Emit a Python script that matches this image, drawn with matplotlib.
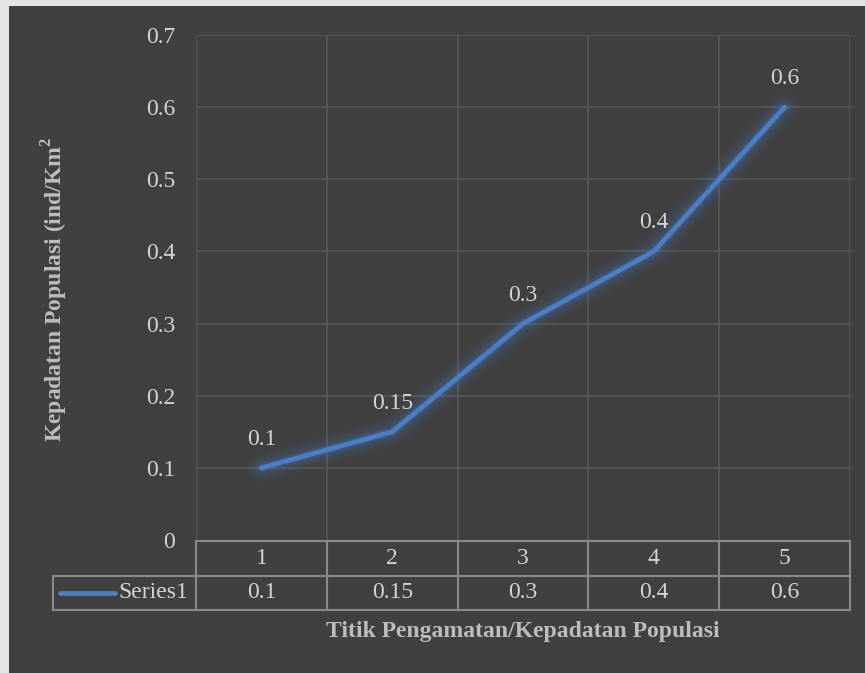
import matplotlib.pyplot as plt
from matplotlib.patches import Rectangle
import matplotlib.transforms as mtransforms

# data
titik = [1, 2, 3, 4, 5]
kepadatan = [0.1, 0.15, 0.3, 0.4, 0.6]
value_labels = ['0.1', '0.15', '0.3', '0.4', '0.6']
series_name = 'Series1'
y_ticks = [0, 0.1, 0.2, 0.3, 0.4, 0.5, 0.6, 0.7]
y_ticklabels = ['0', '0.1', '0.2', '0.3', '0.4', '0.5', '0.6', '0.7']

bg = '#404040'
grid_c = '#585858'
table_c = '#8a8a8a'
text_c = '#d4d4d4'
title_c = '#bdbdbd'
line_c = '#4a7ec7'
fs = 17

plt.rcParams['font.family'] = ['Liberation Serif', 'DejaVu Serif']

W, H = 865, 673
fig = plt.figure(figsize=(W / 100, H / 100), dpi=100)
fig.patch.set_facecolor('#e4e4e4')
fig.add_artist(Rectangle((9 / W, 0), 1 - 9 / W, 1 - 6 / H, transform=fig.transFigure,
                         facecolor=bg, edgecolor='none', zorder=0))

ax = fig.add_axes([196 / W, (H - 540) / H, 654 / W, 505 / H])
ax.set_facecolor(bg)
ax.set_xlim(0.5, 5.5)
ax.set_ylim(0, 0.7)
for s in ax.spines.values():
    s.set_visible(False)

# gridlines
for yv in y_ticks[1:]:
    ax.axhline(yv, color=grid_c, lw=1.2, zorder=1)
for i in range(len(titik) + 1):
    ax.axvline(titik[0] - 0.5 + i, color=grid_c, lw=1.2, zorder=1)

ax.set_yticks(y_ticks)
ax.set_yticklabels(y_ticklabels)
ax.tick_params(axis='y', length=0, pad=15, labelsize=fs, labelcolor=text_c)
ax.set_xticks([])

# line with soft glow
for lw, a in [(20, 0.06), (15, 0.08), (10, 0.12), (6, 0.2)]:
    ax.plot(titik, kepadatan, color=line_c, lw=lw, alpha=a, solid_capstyle='round',
            solid_joinstyle='round', zorder=2)
ax.plot(titik, kepadatan, color=line_c, lw=3.4, solid_capstyle='round',
        solid_joinstyle='round', zorder=3)

for xv, yv, lab in zip(titik, kepadatan, value_labels):
    ax.annotate(lab, (xv, yv), xytext=(0, 13), textcoords='offset points',
                ha='center', va='bottom', fontsize=fs, color=text_c)

# data table below the plot (x in data units, y in pixels from axes bottom)
px = 1 / 505
trans = mtransforms.blended_transform_factory(ax.transData, ax.transAxes)
r0, r1, r2 = -1 * px, -36 * px, -70 * px
left_x = 0.5 - (196 - 53) / 654 * 5
kw = dict(color=table_c, lw=1.5, transform=trans, clip_on=False)
ax.plot([0.5, 5.5], [r0, r0], **kw)
ax.plot([left_x, 5.5], [r1, r1], **kw)
ax.plot([left_x, 5.5], [r2, r2], **kw)
ax.plot([left_x, left_x], [r1, r2], **kw)
for i in range(len(titik) + 1):
    xb = titik[0] - 0.5 + i
    ax.plot([xb, xb], [r0, r2], **kw)

for xv, lab in zip(titik, value_labels):
    ax.text(xv, (r0 + r1) / 2, str(xv), transform=trans, ha='center', va='center',
            fontsize=fs, color=text_c)
    ax.text(xv, (r1 + r2) / 2, lab, transform=trans, ha='center', va='center',
            fontsize=fs, color=text_c)

leg_x0 = left_x + 7 / 654 * 5
leg_x1 = left_x + 62 / 654 * 5
ax.plot([leg_x0, leg_x1], [(r1 + r2) / 2] * 2, color=line_c, lw=3.4,
        solid_capstyle='round', transform=trans, clip_on=False)
ax.text(0.5 - 8 / 654 * 5, (r1 + r2) / 2, series_name, transform=trans,
        ha='right', va='center', fontsize=fs, color=text_c)

# axis titles
fig.text(523 / W, 1 - 632 / H, 'Titik Pengamatan/Kepadatan Populasi', ha='center',
         va='center', fontsize=fs, fontweight='bold', color=title_c)
fig.text(55 / W, 1 - 289 / H, 'Kepadatan Populasi (ind/Km$^\\mathregular{2}$',
         rotation=90, ha='center', va='center', fontsize=fs, fontweight='bold',
         color=title_c)

fig.savefig('out.png', dpi=100, facecolor=fig.get_facecolor())
